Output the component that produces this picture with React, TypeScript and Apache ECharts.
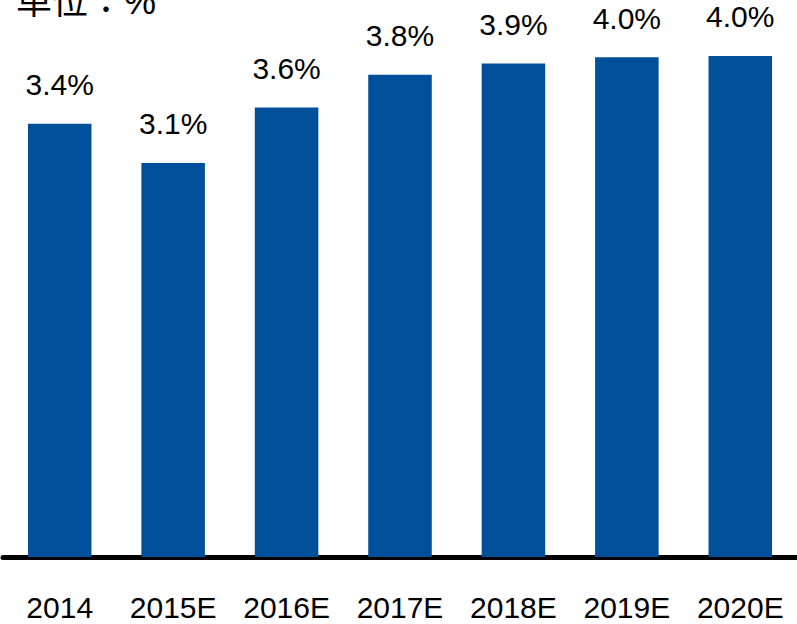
import React, { useEffect, useRef } from "react";
import * as echarts from "echarts";

const categories = ["2014", "2015E", "2016E", "2017E", "2018E", "2019E", "2020E"];
const values = [3.44, 3.13, 3.57, 3.83, 3.92, 3.97, 3.98];
const valueLabels = ["3.4%", "3.1%", "3.6%", "3.8%", "3.9%", "4.0%", "4.0%"];
const unitTitle = "单位：%";

const FONT = "'Liberation Sans', Arial, 'Noto Sans CJK TC', sans-serif";

export default function App() {
  const ref = useRef<HTMLDivElement>(null);
  useEffect(() => {
    if (!ref.current) return;
    const chart = echarts.init(ref.current, undefined, { renderer: "svg" });
    chart.setOption({
      animation: false,
      backgroundColor: "#ffffff",
      grid: { left: 3, right: -4, top: 3, bottom: 67, containLabel: false },
      xAxis: {
        type: "category",
        data: categories,
        axisLine: { show: true, lineStyle: { color: "#000", width: 5 } },
        axisTick: { show: false },
        axisLabel: { color: "#000", fontSize: 30, margin: 35, fontFamily: FONT, interval: 0 },
      },
      yAxis: { type: "value", min: 0, max: 4.4, show: false, splitLine: { show: false } },
      graphic: [
        {
          type: "text",
          left: 16,
          top: -17,
          style: { text: unitTitle, fontSize: 36, fill: "#000", fontFamily: "'Liberation Sans', 'Noto Sans CJK TC', sans-serif" },
        },
      ],
      series: [
        {
          type: "bar",
          data: values,
          barWidth: "56%",
          itemStyle: { color: "#004F9A" },
          label: {
            show: true,
            position: "top",
            distance: 24,
            color: "#000",
            fontSize: 30,
            fontFamily: FONT,
            formatter: (p: any) => valueLabels[p.dataIndex],
          },
        },
      ],
    });
    return () => chart.dispose();
  }, []);
  return (
    <div
      ref={ref}
      style={{ position: "fixed", left: 0, top: 0, width: 797, height: 624 }}
    />
  );
}
